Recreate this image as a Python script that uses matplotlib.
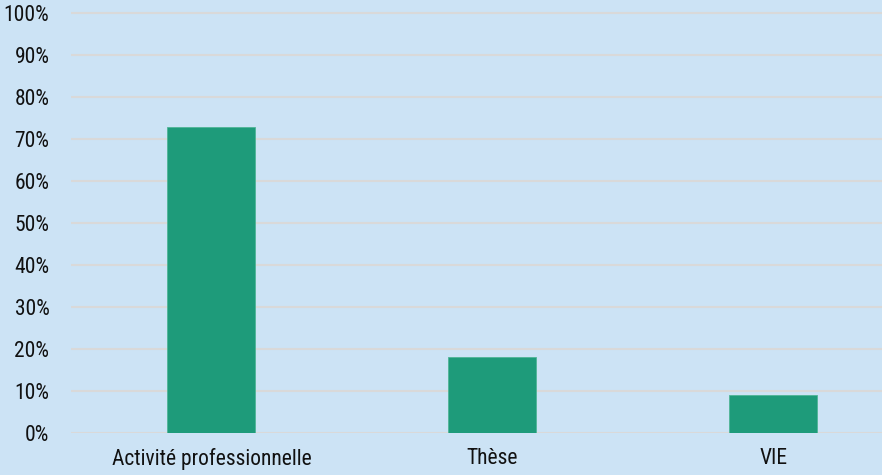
import matplotlib
matplotlib.use("Agg")
import matplotlib.pyplot as plt
from matplotlib.ticker import PercentFormatter

categories = ["Activité professionnelle", "Thèse", "VIE"]
values = [72.73, 18.18, 9.09]
yticks = [0, 10, 20, 30, 40, 50, 60, 70, 80, 90, 100]

bg = "#cce3f5"
bar_color = "#1e9b7a"

plt.rcParams['font.family'] = ['Roboto Condensed', 'Liberation Sans', 'DejaVu Sans']
fs = 15.5

fig = plt.figure(figsize=(8.82, 4.75), dpi=100, facecolor=bg)
ax = fig.add_axes([71/882, (475-433.3)/475, 1 - 71/882, 433.3/475])
ax.set_facecolor(bg)

x = list(range(len(categories)))
ax.bar(x, values, width=0.313, color=bar_color, edgecolor="#4fb596", linewidth=0.6, zorder=3)

ax.set_xlim(-0.5, 2.387)
ax.set_ylim(0, 103.0)
ax.set_yticks(yticks)
ax.yaxis.set_major_formatter(PercentFormatter(decimals=0))
ax.set_xticks(x)
ax.set_xticklabels(categories)

ax.grid(axis='y', color="#d9d9d9", linewidth=1.5, zorder=0)
ax.set_axisbelow(True)
for s in ax.spines.values():
    s.set_visible(False)
ax.tick_params(axis='y', length=0, pad=15.5, labelsize=fs, labelcolor="#111111")
ax.tick_params(axis='x', length=0, pad=10.5, labelsize=fs, labelcolor="#111111")

fig.savefig("out.png", dpi=100, facecolor=bg)
